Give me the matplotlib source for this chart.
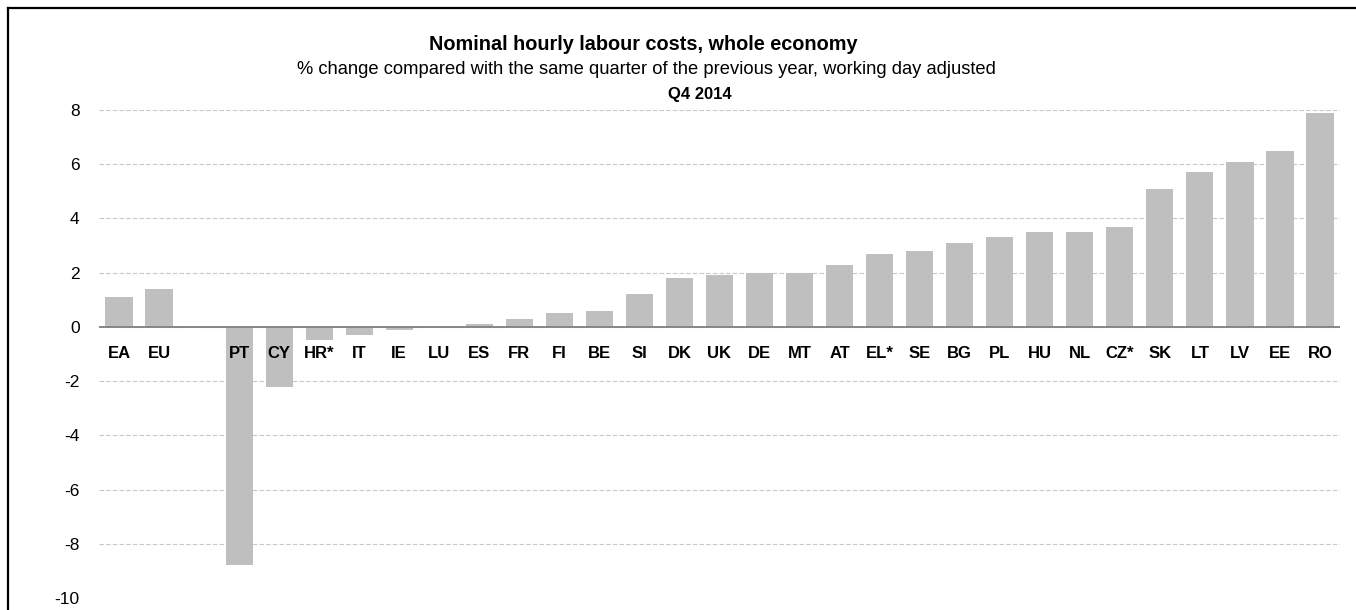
import matplotlib
matplotlib.use("Agg")
import matplotlib.pyplot as plt
from matplotlib.lines import Line2D

plt.rcParams['font.family'] = ['Liberation Sans', 'DejaVu Sans']

categories = ["EA", "EU", "", "PT", "CY", "HR*", "IT", "IE", "LU", "ES", "FR", "FI", "BE",
              "SI", "DK", "UK", "DE", "MT", "AT", "EL*", "SE", "BG", "PL", "HU", "NL",
              "CZ*", "SK", "LT", "LV", "EE", "RO"]
values = [1.1, 1.4, None, -8.8, -2.2, -0.5, -0.3, -0.1, 0.0, 0.1, 0.3, 0.5, 0.6,
          1.2, 1.8, 1.9, 2.0, 2.0, 2.3, 2.7, 2.8, 3.1, 3.3, 3.5, 3.5,
          3.7, 5.1, 5.7, 6.1, 6.5, 7.9]
yticks = [-10, -8, -6, -4, -2, 0, 2, 4, 6, 8]

W, H = 1356, 610
fig = plt.figure(figsize=(W / 100, H / 100), dpi=100)
ax = fig.add_axes([99 / W, 12 / H, (1340 - 99) / W, (598 - 110) / H])

xs = [i for i, v in enumerate(values) if v is not None]
vs = [v for v in values if v is not None]
ax.bar(xs, vs, width=0.68, color='#bfbfbf', zorder=2)

ax.set_xlim(-0.5, len(categories) - 0.5)
ax.set_ylim(-10, 8)
ax.set_yticks(yticks)
ax.set_yticklabels([str(t) for t in yticks], fontsize=12.5)
ax.tick_params(axis='y', length=0, pad=14)
ax.set_xticks([])
for s in ax.spines.values():
    s.set_visible(False)
ax.grid(axis='y', color='#c8c8c8', linestyle=(0, (4, 2)), linewidth=0.8, zorder=0)
ax.axhline(0, color='#808080', linewidth=1.3, zorder=3)

for i, c in enumerate(categories):
    if c:
        ax.text(i, -1.0, c, ha='center', va='center', fontsize=12, fontweight='bold', zorder=4)

fig.text(643 / W, 1 - 45 / H, "Nominal hourly labour costs, whole economy",
         ha='center', va='center', fontsize=14.3, fontweight='bold')
fig.text(646 / W, 1 - 70 / H,
         "% change compared with the same quarter of the previous year, working day adjusted",
         ha='center', va='center', fontsize=13.2)
fig.text(700 / W, 1 - 95 / H, "Q4 2014", ha='center', va='center', fontsize=12, fontweight='bold')

fig.add_artist(Line2D([8 / W, 1], [1 - 8 / H, 1 - 8 / H], color='black', linewidth=1.6,
                      transform=fig.transFigure))
fig.add_artist(Line2D([8 / W, 8 / W], [0, 1 - 8 / H], color='black', linewidth=1.6,
                      transform=fig.transFigure))

fig.savefig("out.png", dpi=100)
